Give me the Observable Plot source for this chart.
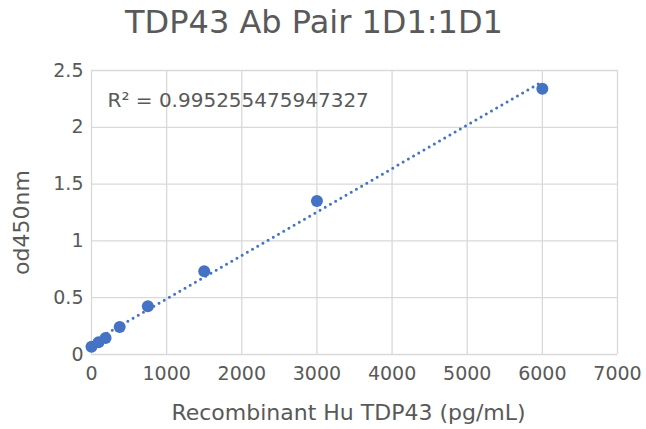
<!DOCTYPE html>
<html>
<head>
<meta charset="utf-8">
<script src="https://cdn.jsdelivr.net/npm/d3@7"></script>
<script src="https://cdn.jsdelivr.net/npm/@observablehq/plot@0.6"></script>
<style>
  html, body { margin: 0; padding: 0; background: #fff; }
  #title {
    font-family: "DejaVu Sans", sans-serif;
    font-size: 32px;
    color: #595959;
    height: 50px;
    box-sizing: border-box;
    padding-top: 3px;
    padding-right: 18px;
    text-align: center;
    line-height: normal;
    width: 646px;
  }
</style>
</head>
<body>
<div id="title">TDP43 Ab Pair 1D1:1D1</div>
<div id="chart"></div>
<script>
// Data
const concentrations = [0, 93.75, 187.5, 375, 750, 1500, 3000, 6000];
const od450 = [0.068, 0.108, 0.146, 0.243, 0.424, 0.733, 1.351, 2.339];
const xTicks = [0, 1000, 2000, 3000, 4000, 5000, 6000, 7000];
const yTicks = [0, 0.5, 1, 1.5, 2, 2.5];
const r2Label = "R² = 0.995255475947327";
const xLabel = "Recombinant Hu TDP43 (pg/mL)";
const yLabel = "od450nm";

const data = concentrations.map((c, i) => ({x: c, y: od450[i]}));

const textColor = "#595959";
const gridColor = "#d9d9d9";
const blue = "#4472c4";

const chart = Plot.plot({
  width: 646,
  height: 379,
  marginTop: 20,
  marginRight: 29,
  marginBottom: 75,
  marginLeft: 91,
  style: {fontFamily: "DejaVu Sans, sans-serif", color: textColor, background: "#fff"},
  x: {domain: [0, 7000]},
  y: {domain: [0, 2.5]},
  marks: [
    Plot.gridX(xTicks, {stroke: gridColor, strokeOpacity: 1, strokeWidth: 1.3}),
    Plot.gridY(yTicks, {stroke: gridColor, strokeOpacity: 1, strokeWidth: 1.3}),
    Plot.axisX(xTicks, {tickSize: 0, tickPadding: 12, tickFormat: d => String(d), fontSize: 19, fill: textColor, label: null}),
    Plot.axisY(yTicks, {tickSize: 0, tickPadding: 8, tickFormat: d => String(d), fontSize: 19, fill: textColor, label: null}),
    Plot.linearRegressionY(data, {x: "x", y: "y", ci: 0, stroke: blue, strokeWidth: 3, strokeLinecap: "round", strokeDasharray: "0,6"}),
    Plot.dot(data, {x: "x", y: "y", r: 6, fill: blue, stroke: null}),
    Plot.text([r2Label], {frameAnchor: "top-left", textAnchor: "start", lineAnchor: "middle", dx: 16, dy: 30, fontSize: 20, fill: textColor}),
    Plot.text([xLabel], {frameAnchor: "bottom", textAnchor: "middle", lineAnchor: "middle", dx: -6, dy: 58, fontSize: 22, fill: textColor}),
    Plot.text([yLabel], {frameAnchor: "left", textAnchor: "middle", lineAnchor: "middle", rotate: -90, dx: -70, dy: 10, fontSize: 22, fill: textColor})
  ]
});
document.getElementById("chart").appendChild(chart);
</script>
</body>
</html>
